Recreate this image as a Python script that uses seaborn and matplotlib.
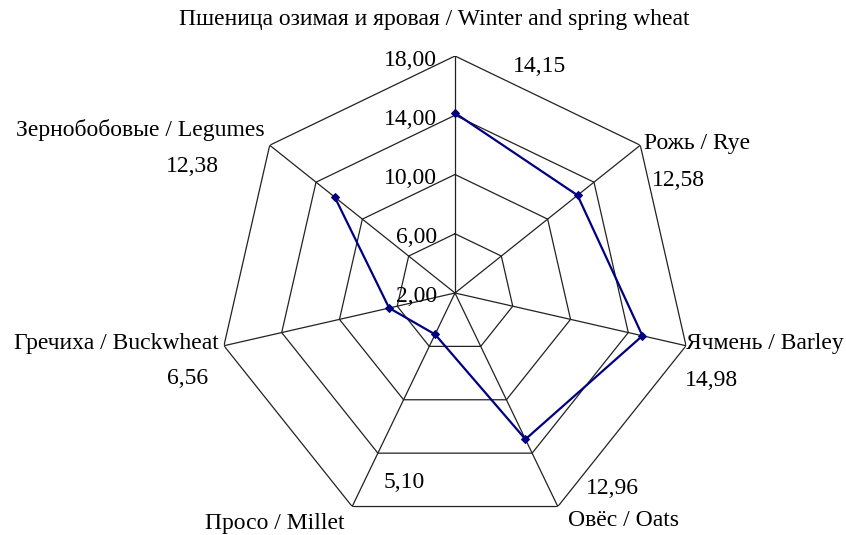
import numpy as np
import pandas as pd
import matplotlib
matplotlib.use("Agg")
import matplotlib.pyplot as plt
import seaborn as sns

categories = [
    "Пшеница озимая и яровая / Winter and spring wheat",
    "Рожь / Rye",
    "Ячмень / Barley",
    "Овёс / Oats",
    "Просо / Millet",
    "Гречиха / Buckwheat",
    "Зернобобовые / Legumes",
]
values = [14.15, 12.58, 14.98, 12.96, 5.10, 6.56, 12.38]
rings = [2, 6, 10, 14, 18]

# label positions in pixels (x, y) for category name and value
name_pos = [(434, 20), (697, 143), (765, 343), (623, 520), (275, 523), (116, 343), (140, 130)]
val_pos = [(540, 66), (678, 180), (711, 380), (612, 488), (404, 483), (188, 378), (192, 167)]

sns.set_style("white")
plt.rcParams["font.family"] = ["Liberation Serif", "DejaVu Serif"]
plt.rcParams["text.color"] = "black"

W, H = 846, 535
fig = plt.figure(figsize=(W / 100, H / 100), dpi=100)
cx, cy, R = 455, 293, 237
ax = fig.add_axes([(cx - R) / W, (H - cy - R) / H, 2 * R / W, 2 * R / H], projection="polar")
ax.set_theta_offset(np.pi / 2)
ax.set_theta_direction(-1)
ax.set_ylim(rings[0], rings[-1])
ax.grid(False)
ax.set_xticks([])
ax.set_yticks([])
ax.spines["polar"].set_visible(False)
ax.patch.set_alpha(0)

n = len(categories)
theta = np.linspace(0, 2 * np.pi, n, endpoint=False)
th_closed = np.append(theta, theta[0])

# polygon grid
for r in rings[1:]:
    ax.plot(th_closed, [r] * (n + 1), color="#222222", lw=0.9, zorder=1)
for t in theta:
    ax.plot([t, t], [rings[0], rings[-1]], color="#222222", lw=0.9, zorder=1)

df = pd.DataFrame({"theta": th_closed, "value": values + [values[0]]})
sns.lineplot(data=df, x="theta", y="value", sort=False, ax=ax, color="#000080",
             lw=1.6, marker="D", markersize=4.5, markeredgecolor="#000080", zorder=3)
ax.set_xlabel("")
ax.set_ylabel("")

fs = 17
for r in rings:
    yy = cy - (r - rings[0]) / (rings[-1] - rings[0]) * R
    fig.text(437 / W, 1 - (yy + 4) / H, f"{r:.2f}".replace(".", ","), ha="right", va="center",
             fontsize=fs, color="black")

for name, (x, y), v, (vx, vy) in zip(categories, name_pos, values, val_pos):
    fig.text(x / W, 1 - y / H, name, ha="center", va="center", fontsize=fs, color="black")
    fig.text(vx / W, 1 - vy / H, f"{v:.2f}".replace(".", ","), ha="center", va="center",
             fontsize=fs, color="black")

fig.savefig("out.png", dpi=100)
